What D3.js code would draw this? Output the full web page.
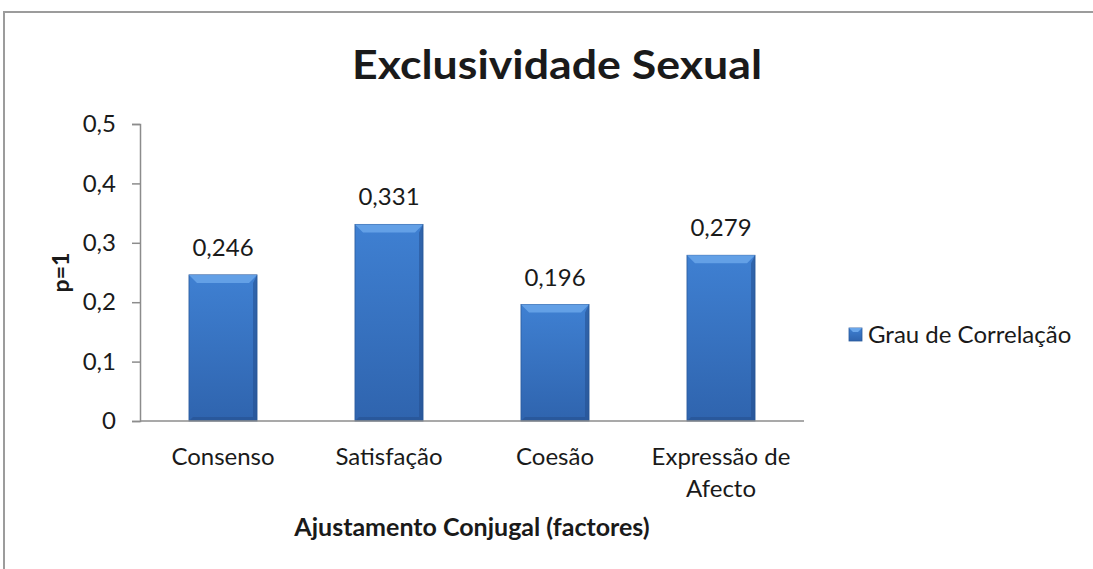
<!DOCTYPE html>
<html>
<head>
<meta charset="utf-8">
<script src="https://cdn.jsdelivr.net/npm/d3@7"></script>
<style>
  body { margin: 0; background: #fff; }
  text { font-family: Lato, "Open Sans", sans-serif; fill: #1a1a1a; }
</style>
</head>
<body>
<div id="chart"></div>
<script>
var categories = [["Consenso"], ["Satisfação"], ["Coesão"], ["Expressão de", "Afecto"]];
var values = [0.246, 0.331, 0.196, 0.279];
var valueLabels = ["0,246", "0,331", "0,196", "0,279"];
var yTicks = [0, 0.1, 0.2, 0.3, 0.4, 0.5];
var yTickLabels = ["0", "0,1", "0,2", "0,3", "0,4", "0,5"];
var seriesName = "Grau de Correlação";

var width = 1093, height = 569;
var plot = {left: 140, right: 804, top: 124, bottom: 421};

var svg = d3.select("#chart").append("svg")
  .attr("width", width)
  .attr("height", height);

var defs = svg.append("defs");
var grad = defs.append("linearGradient").attr("id", "barFill")
  .attr("x1", 0).attr("y1", 0).attr("x2", 0).attr("y2", 1);
grad.append("stop").attr("offset", "0%").attr("stop-color", "#3f80d2");
grad.append("stop").attr("offset", "100%").attr("stop-color", "#2f64ae");

// chart frame (cropped)
svg.append("path")
  .attr("d", "M4,569 L4,12 L1093,12")
  .attr("fill", "none")
  .attr("stroke", "#9c9c9c")
  .attr("stroke-width", 2);

// title
svg.append("text")
  .attr("x", 557).attr("y", 79)
  .attr("text-anchor", "middle")
  .style("font-size", "40px").style("font-weight", "bold")
  .attr("textLength", 410).attr("lengthAdjust", "spacingAndGlyphs")
  .text("Exclusividade Sexual");

var x = d3.scaleBand()
  .domain(d3.range(categories.length))
  .range([plot.left, plot.right])
  .paddingInner(0.59).paddingOuter(0.295);

var y = d3.scaleLinear().domain([0, 0.5]).range([plot.bottom, plot.top]);

// y axis
var yAxis = svg.append("g")
  .attr("transform", "translate(" + plot.left + ",0)")
  .call(d3.axisLeft(y).tickValues(yTicks).tickSize(8).tickPadding(16)
    .tickFormat(function (d, i) { return yTickLabels[i]; }));
yAxis.select(".domain").attr("stroke", "#8c8c8c").attr("stroke-width", 1.5);
yAxis.selectAll(".tick line").attr("stroke", "#8c8c8c").attr("stroke-width", 1.5);
yAxis.selectAll(".tick text")
  .style("font-size", "24px").style("font-family", "Lato, 'Open Sans', sans-serif")
  .attr("fill", "#1a1a1a");

// bars
var bars = svg.selectAll("g.bar")
  .data(values)
  .enter().append("g").attr("class", "bar");

bars.append("rect")
  .attr("x", function (d, i) { return x(i); })
  .attr("y", function (d) { return y(d); })
  .attr("width", x.bandwidth())
  .attr("height", function (d) { return y(0) - y(d); })
  .attr("fill", "url(#barFill)")
  .attr("stroke", "#2a5a9c").attr("stroke-width", 0.8);

// bevel: top lighter edge
bars.append("path")
  .attr("d", function (d, i) {
    var x0 = x(i), x1 = x(i) + x.bandwidth(), t = y(d), b = 8;
    return "M" + x0 + "," + t + "L" + x1 + "," + t + "L" + (x1 - b) + "," + (t + b) + "L" + (x0 + b) + "," + (t + b) + "Z";
  })
  .attr("fill", "#6aa6ea").attr("opacity", 0.85);
// bevel: side/bottom darker edges
bars.append("path")
  .attr("d", function (d, i) {
    var x0 = x(i), x1 = x(i) + x.bandwidth(), t = y(d), bt = y(0), b = 4;
    return "M" + x1 + "," + t + "L" + x1 + "," + bt + "L" + x0 + "," + bt + "L" + (x0 + b) + "," + (bt - b) + "L" + (x1 - b) + "," + (bt - b) + "L" + (x1 - b) + "," + (t + 8) + "Z";
  })
  .attr("fill", "#244f8c").attr("opacity", 0.55);

// value labels
bars.append("text")
  .attr("x", function (d, i) { return x(i) + x.bandwidth() / 2; })
  .attr("y", function (d) { return y(d) - 19; })
  .attr("text-anchor", "middle")
  .style("font-size", "24px")
  .text(function (d, i) { return valueLabels[i]; });

// x axis line
svg.append("line")
  .attr("x1", plot.left).attr("x2", plot.right)
  .attr("y1", y(0)).attr("y2", y(0))
  .attr("stroke", "#8c8c8c").attr("stroke-width", 1.5);

// category labels
var catLabels = svg.selectAll("text.cat")
  .data(categories)
  .enter().append("text").attr("class", "cat")
  .attr("text-anchor", "middle")
  .style("font-size", "24px");
catLabels.each(function (lines, i) {
  var t = d3.select(this);
  lines.forEach(function (line, j) {
    t.append("tspan")
      .attr("x", x(i) + x.bandwidth() / 2)
      .attr("y", 465 + j * 32)
      .text(line);
  });
});

// axis titles
svg.append("text")
  .attr("x", (plot.left + plot.right) / 2).attr("y", 536)
  .attr("text-anchor", "middle")
  .style("font-size", "25px").style("font-weight", "bold")
  .text("Ajustamento Conjugal (factores)");

svg.append("text")
  .attr("transform", "translate(69," + ((plot.top + plot.bottom) / 2) + ") rotate(-90)")
  .attr("text-anchor", "middle")
  .style("font-size", "23px").style("font-weight", "bold")
  .text("p=1");

// legend
var legend = svg.append("g").attr("transform", "translate(849,328)");
legend.append("rect")
  .attr("width", 13).attr("height", 13)
  .attr("fill", "url(#barFill)").attr("stroke", "#2a5a9c").attr("stroke-width", 0.8);
legend.append("path")
  .attr("d", "M0,0L13,0L9,4L4,4Z").attr("fill", "#6aa6ea");
legend.append("text")
  .attr("x", 19).attr("y", 15)
  .style("font-size", "24px")
  .text(seriesName);
</script>
</body>
</html>
